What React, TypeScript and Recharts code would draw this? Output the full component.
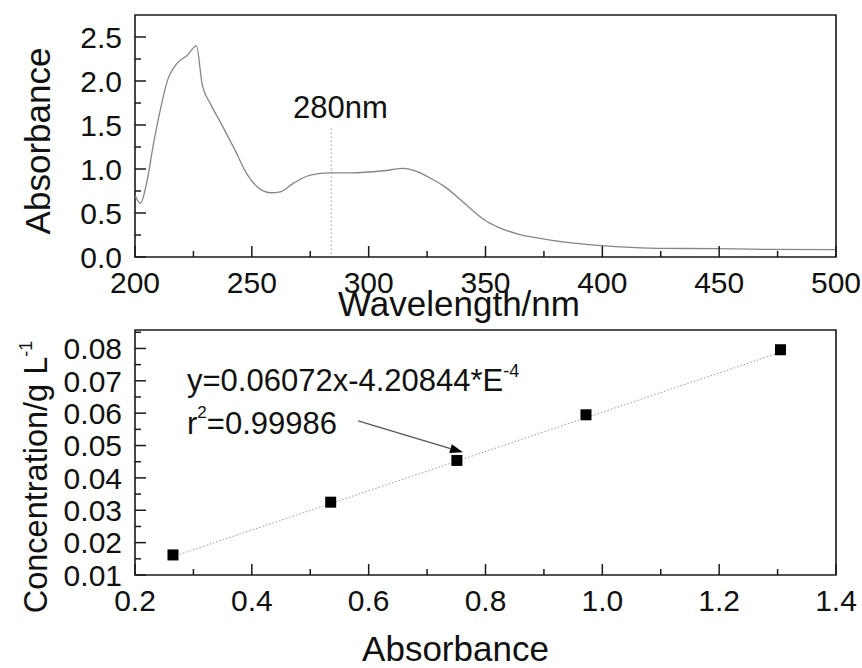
import React from 'react';
import {
  LineChart,
  Line,
  XAxis,
  YAxis,
  ReferenceLine,
  ReferenceDot,
  ReferenceArea,
  ScatterChart,
  Scatter,
} from 'recharts';

const FONT = '"Liberation Sans", Arial, Helvetica, sans-serif';
const AX = '#1a1a1a';
const TXT = '#111';

// ---------- top chart: UV spectrum ----------
const wavelengths = [
  200.2, 202.3, 205.2, 208, 210.9, 213.7, 218, 222.3, 226.3, 228.7, 232.3, 236.6, 242.3, 248,
  252.2, 257.9, 262.2, 267.9, 275, 283.6, 292.2, 306.4, 315, 320.7, 326.8, 332.5, 341, 349.6,
  355.3, 363.9, 373.8, 386.7, 399.5, 412.3, 426.6, 448, 469.4, 500,
];
const absorbances = [
  0.69, 0.61, 0.87, 1.3, 1.68, 1.99, 2.2, 2.29, 2.4, 1.97, 1.74, 1.53, 1.24, 0.94,
  0.8, 0.73, 0.74, 0.84, 0.93, 0.957, 0.957, 0.98, 1.006, 0.97, 0.89, 0.8, 0.61, 0.42,
  0.34, 0.26, 0.21, 0.16, 0.13, 0.11, 0.098, 0.095, 0.087, 0.083,
];
const spectrumData = wavelengths.map((w, i) => ({ w, a: absorbances[i] }));

const wavelengthTicks = [200, 225, 250, 275, 300, 325, 350, 375, 400, 425, 450, 475, 500];
const wavelengthLabels = [200, 250, 300, 350, 400, 450, 500];
const absorbanceTicks = [0, 0.25, 0.5, 0.75, 1, 1.25, 1.5, 1.75, 2, 2.25, 2.5];
const absorbanceLabels = [0, 0.5, 1, 1.5, 2, 2.5];
const markerWavelength = 284;
const markerRange = [0.034, 1.487];

// ---------- bottom chart: calibration ----------
const calibAbs = [0.265, 0.535, 0.751, 0.972, 1.305];
const calibConc = [0.0162, 0.0325, 0.0454, 0.0595, 0.0796];
const calibData = calibAbs.map((x, i) => ({ x, y: calibConc[i] }));
const fitAbs = [0.265, 1.305];
const fitConc = [0.0157, 0.0788];
const fitData = fitAbs.map((x, i) => ({ x, y: fitConc[i] }));

const absBottomTicks = [0.2, 0.3, 0.4, 0.5, 0.6, 0.7, 0.8, 0.9, 1.0, 1.1, 1.2, 1.3, 1.4];
const absBottomLabels = [0.2, 0.4, 0.6, 0.8, 1.0, 1.2, 1.4];
const concTicks = [0.01, 0.015, 0.02, 0.025, 0.03, 0.035, 0.04, 0.045, 0.05, 0.055, 0.06, 0.065, 0.07, 0.075, 0.08, 0.085];
const concLabels = [0.01, 0.02, 0.03, 0.04, 0.05, 0.06, 0.07, 0.08];
const arrowFrom = { x: 0.582, y: 0.0576 };
const arrowTo = { x: 0.7615, y: 0.0479 };

const isIn = (arr: number[], v: number) => arr.some((l) => Math.abs(l - v) < 1e-9);

const makeXTick = (labels: number[], fmt: (v: number) => string) => (props: any) => {
  const { x, y, payload } = props;
  const v = payload.value;
  const major = isIn(labels, v);
  return (
    <g>
      <line x1={x} y1={y} x2={x} y2={y - (major ? 11 : 6)} stroke={AX} strokeWidth={1.5} />
      {major && (
        <text x={x} y={y + 36} textAnchor="middle" fontSize={30} fontFamily={FONT} fill={TXT}>
          {fmt(v)}
        </text>
      )}
    </g>
  );
};

const makeYTick = (labels: number[], fmt: (v: number) => string) => (props: any) => {
  const { x, y, payload } = props;
  const v = payload.value;
  const major = isIn(labels, v);
  return (
    <g>
      <line x1={x} y1={y} x2={x + (major ? 11 : 6)} y2={y} stroke={AX} strokeWidth={1.5} />
      {major && (
        <text x={x - 13} y={y} dy="0.36em" textAnchor="end" fontSize={30} fontFamily={FONT} fill={TXT}>
          {fmt(v)}
        </text>
      )}
    </g>
  );
};

const Square = (props: any) => {
  const { cx, cy } = props;
  return <rect x={cx - 5.5} y={cy - 5.5} width={11} height={11} fill="#000" />;
};

const Arrow = (props: any) => {
  const { x1, y1, x2, y2 } = props;
  const ang = Math.atan2(y2 - y1, x2 - x1);
  const L = 13;
  const W = 4.5;
  const bx = x2 - L * Math.cos(ang);
  const by = y2 - L * Math.sin(ang);
  const px = -Math.sin(ang) * W;
  const py = Math.cos(ang) * W;
  return (
    <g>
      <line x1={x1} y1={y1} x2={bx} y2={by} stroke="#555" strokeWidth={1.3} />
      <polygon points={`${x2},${y2} ${bx + px},${by + py} ${bx - px},${by - py}`} fill="#000" />
    </g>
  );
};

export default function App() {
  return (
    <div style={{ position: 'absolute', left: 0, top: 0, width: 862, height: 668, background: '#fff' }}>
      <div style={{ position: 'absolute', left: 0, top: 0 }}>
        <LineChart width={862} height={330} data={spectrumData} margin={{ top: 15, right: 26, bottom: 0, left: 0 }}>
          <XAxis
            type="number"
            dataKey="w"
            domain={[200, 500]}
            ticks={wavelengthTicks}
            interval={0}
            tickSize={0}
            tickMargin={0}
            axisLine={false}
            tickLine={false}
            height={73}
            tick={makeXTick(wavelengthLabels, (v) => String(v))}
            label={() => (
              <text x={459} y={316} textAnchor="middle" fontSize={35} fontFamily={FONT} fill={TXT}>
                Wavelength/nm
              </text>
            )}
          />
          <YAxis
            type="number"
            domain={[0, 2.75]}
            ticks={absorbanceTicks}
            interval={0}
            tickSize={0}
            tickMargin={0}
            axisLine={false}
            tickLine={false}
            width={135}
            tick={makeYTick(absorbanceLabels, (v) => v.toFixed(1))}
            label={() => (
              <text
                x={50}
                y={141}
                transform="rotate(-90 50 141)"
                textAnchor="middle"
                fontSize={35}
                fontFamily={FONT}
                fill={TXT}
              >
                Absorbance
              </text>
            )}
          />
          <ReferenceArea x1={200} x2={500} y1={0} y2={2.75} fill="none" stroke={AX} strokeWidth={1.6} ifOverflow="visible" />
          <ReferenceLine
            segment={[
              { x: markerWavelength, y: markerRange[0] },
              { x: markerWavelength, y: markerRange[1] },
            ]}
            stroke="#999"
            strokeWidth={1}
            strokeDasharray="1.5 2.5"
          />
          <ReferenceDot
            x={287.9}
            y={1.585}
            r={0}
            shape={(p: any) => (
              <text x={p.cx} y={p.cy} textAnchor="middle" fontSize={31} fontFamily={FONT} fill={TXT}>
                280nm
              </text>
            )}
          />
          <Line
            type="monotone"
            dataKey="a"
            stroke="#858585"
            strokeWidth={1.3}
            dot={false}
            activeDot={false}
            isAnimationActive={false}
          />
        </LineChart>
      </div>
      <div style={{ position: 'absolute', left: 0, top: 300 }}>
        <ScatterChart width={862} height={368} margin={{ top: 30, right: 26, bottom: 0, left: 0 }}>
          <XAxis
            type="number"
            dataKey="x"
            domain={[0.2, 1.4]}
            ticks={absBottomTicks}
            interval={0}
            tickSize={0}
            tickMargin={0}
            axisLine={false}
            tickLine={false}
            height={93}
            tick={makeXTick(absBottomLabels, (v) => v.toFixed(1))}
            label={() => (
              <text x={455.5} y={361} textAnchor="middle" fontSize={35} fontFamily={FONT} fill={TXT}>
                Absorbance
              </text>
            )}
          />
          <YAxis
            type="number"
            dataKey="y"
            domain={[0.01, 0.0857]}
            ticks={concTicks}
            interval={0}
            tickSize={0}
            tickMargin={0}
            axisLine={false}
            tickLine={false}
            width={135}
            tick={makeYTick(concLabels, (v) => v.toFixed(2))}
            label={() => (
              <text
                x={46.7}
                y={313.3}
                transform="rotate(-90 46.7 313.3)"
                textAnchor="start"
                fontSize={32.5}
                fontFamily={FONT}
                fill={TXT}
              >
                Concentration/g L
                <tspan dy={-15} fontSize={18}>-1</tspan>
              </text>
            )}
          />
          <ReferenceArea x1={0.2} x2={1.4} y1={0.01} y2={0.0857} fill="none" stroke={AX} strokeWidth={1.6} ifOverflow="visible" />
          <Scatter
            data={fitData}
            line={{ stroke: '#999', strokeWidth: 1, strokeDasharray: '1.5 2' }}
            shape={() => <g />}
            isAnimationActive={false}
          />
          <Scatter data={calibData} shape={Square} isAnimationActive={false} />
          <ReferenceLine segment={[arrowFrom, arrowTo]} shape={Arrow} />
          <ReferenceDot
            x={0.289}
            y={0.0669}
            r={0}
            shape={(p: any) => (
              <text x={p.cx} y={p.cy} fontSize={31} fontFamily={FONT} fill={TXT}>
                y=0.06072x-4.20844*E
                <tspan dy={-14} fontSize={18}>-4</tspan>
              </text>
            )}
          />
          <ReferenceDot
            x={0.289}
            y={0.0535}
            r={0}
            shape={(p: any) => (
              <text x={p.cx} y={p.cy} fontSize={31} fontFamily={FONT} fill={TXT}>
                r<tspan dy={-16} fontSize={17}>2</tspan>
                <tspan dy={16} fontSize={31}>=0.99986</tspan>
              </text>
            )}
          />
        </ScatterChart>
      </div>
    </div>
  );
}
